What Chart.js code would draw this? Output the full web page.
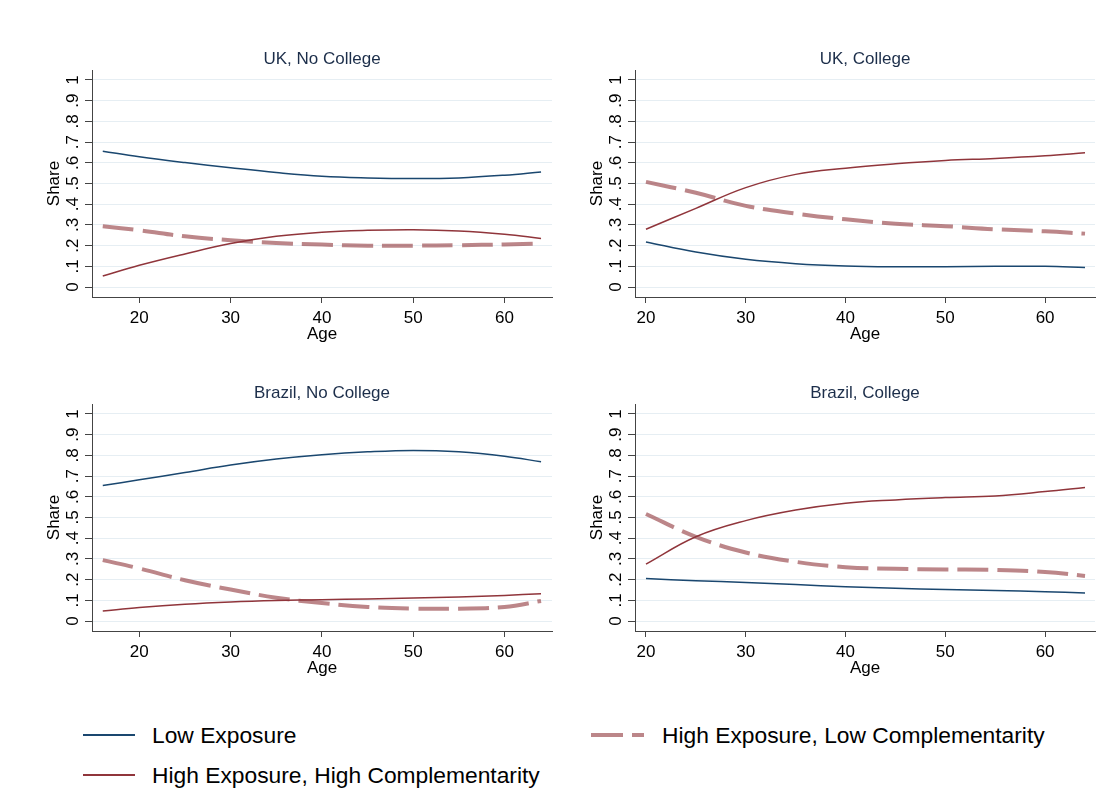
<!DOCTYPE html>
<html>
<head>
<style>
  body { margin: 0; background: #fff; width: 1120px; height: 812px; position: relative; overflow: hidden; }
  .panel { position: absolute; }
  .legend { position: absolute; font-family: 'Liberation Sans', Arial, sans-serif; font-size: 22.8px; color: #000; }
  .key { position: absolute; height: 2px; }
  .lab { position: absolute; white-space: nowrap; line-height: 26px; }
</style>
</head>
<body>

<canvas class="panel" id="c1" width="560" height="330" style="left:30px;top:30px"></canvas>
<canvas class="panel" id="c2" width="560" height="330" style="left:573px;top:30px"></canvas>
<canvas class="panel" id="c3" width="560" height="330" style="left:30px;top:364px"></canvas>
<canvas class="panel" id="c4" width="560" height="330" style="left:573px;top:364px"></canvas>

<div class="legend">
  <div class="key" style="left:83px;top:734px;width:52px;background:#1a476f"></div>
  <div class="lab" style="left:152px;top:722px">Low Exposure</div>
  <div class="key" style="left:83px;top:774px;width:52px;background:#90353b"></div>
  <div class="lab" style="left:152px;top:762px">High Exposure, High Complementarity</div>
  <div class="key" style="left:591px;top:733px;width:32px;height:4px;background:rgba(144,53,59,0.6)"></div>
  <div class="key" style="left:632px;top:733px;width:12px;height:4px;background:rgba(144,53,59,0.6)"></div>
  <div class="lab" style="left:662px;top:722px">High Exposure, Low Complementarity</div>
</div>

<script src="https://cdn.jsdelivr.net/npm/chart.js"></script>
<script>
// ages on the x axis
const agesNoCollege = [16, 20, 25, 30, 35, 40, 45, 50, 55, 60, 64];
const agesCollege = [20, 25, 30, 35, 40, 45, 50, 55, 60, 64];

// UK, No College
const ukNoColLow  = [0.656, 0.629, 0.601, 0.576, 0.553, 0.535, 0.527, 0.524, 0.527, 0.540, 0.556];
const ukNoColHiHi = [0.053, 0.105, 0.160, 0.210, 0.245, 0.265, 0.274, 0.277, 0.271, 0.255, 0.235];
const ukNoColHiLo = [0.294, 0.274, 0.245, 0.226, 0.213, 0.205, 0.200, 0.200, 0.202, 0.206, 0.210];

// UK, College
const ukColLow  = [0.218, 0.169, 0.134, 0.113, 0.102, 0.098, 0.098, 0.100, 0.100, 0.095];
const ukColHiHi = [0.279, 0.380, 0.480, 0.544, 0.574, 0.595, 0.611, 0.621, 0.634, 0.648];
const ukColHiLo = [0.508, 0.455, 0.392, 0.355, 0.327, 0.306, 0.294, 0.279, 0.269, 0.258];

// Brazil, No College
const brNoColLow  = [0.654, 0.682, 0.717, 0.753, 0.782, 0.803, 0.817, 0.824, 0.817, 0.796, 0.769];
const brNoColHiHi = [0.048, 0.065, 0.081, 0.092, 0.099, 0.103, 0.107, 0.111, 0.116, 0.124, 0.132];
const brNoColHiLo = [0.294, 0.254, 0.197, 0.152, 0.113, 0.087, 0.068, 0.060, 0.060, 0.068, 0.097];

// Brazil, College
const brColLow  = [0.205, 0.195, 0.186, 0.176, 0.166, 0.158, 0.152, 0.147, 0.142, 0.136];
const brColHiHi = [0.275, 0.407, 0.485, 0.536, 0.569, 0.585, 0.596, 0.604, 0.625, 0.645];
const brColHiLo = [0.517, 0.407, 0.331, 0.286, 0.260, 0.252, 0.249, 0.247, 0.237, 0.218];

const seriesNames = ['Low Exposure', 'High Exposure, High Complementarity', 'High Exposure, Low Complementarity'];
const yTicks = [0, 0.1, 0.2, 0.3, 0.4, 0.5, 0.6, 0.7, 0.8, 0.9, 1];
const yLabels = ['0', '.1', '.2', '.3', '.4', '.5', '.6', '.7', '.8', '.9', '1'];
const xTicks = [20, 30, 40, 50, 60];

Chart.defaults.font.family = "'Liberation Sans', Arial, sans-serif";
Chart.defaults.color = '#000';

function pts(ages, vals) {
    return ages.map((a, i) => ({ x: a, y: vals[i] }));
}

function makePanel(id, title, ages, low, hiHi, hiLo, xMin, xMax) {
    new Chart(document.getElementById(id), {
        type: 'line',
        data: {
            datasets: [
                { label: seriesNames[0], data: pts(ages, low), borderColor: '#1a476f', borderWidth: 1.5, order: 2 },
                { label: seriesNames[1], data: pts(ages, hiHi), borderColor: '#90353b', borderWidth: 1.5, order: 1 },
                { label: seriesNames[2], data: pts(ages, hiLo), borderColor: 'rgba(144,53,59,0.6)', borderWidth: 4,
                  borderDash: [31, 9], borderCapStyle: 'butt', order: 3 }
            ]
        },
        options: {
            responsive: false,
            animation: false,
            layout: { padding: { left: 14, right: 38, top: 0, bottom: 15.3 } },
            elements: {
                point: { radius: 0 },
                line: { tension: 0.4, fill: false }
            },
            plugins: {
                legend: { display: false },
                tooltip: { enabled: false },
                title: {
                    display: true, text: title, fullSize: false, color: '#1c2e4a',
                    font: { size: 17, weight: 'normal' },
                    padding: { top: 18.8, bottom: 0.8 }
                }
            },
            scales: {
                x: {
                    type: 'linear', min: xMin, max: xMax,
                    afterBuildTicks: s => { s.ticks = xTicks.map(v => ({ value: v })); },
                    afterFit: s => { s.height = 47.7; },
                    grid: { drawOnChartArea: false, tickLength: 6, tickColor: '#444' },
                    border: { color: '#444', width: 1 },
                    ticks: { font: { size: 17 }, padding: 5, maxRotation: 0 },
                    title: { display: true, text: 'Age', font: { size: 17 }, padding: { top: 0, bottom: 0 } }
                },
                y: {
                    type: 'linear', min: -0.048, max: 1.048,
                    afterBuildTicks: s => { s.ticks = yTicks.map(v => ({ value: v })); },
                    afterFit: s => { s.width = 48; },
                    grid: { color: '#e6eef3', tickLength: 7, tickColor: '#444' },
                    border: { color: '#444', width: 1 },
                    ticks: {
                        font: { size: 17 }, padding: 5, minRotation: 90, maxRotation: 90, crossAlign: 'center',
                        callback: (v, i) => yLabels[i]
                    },
                    title: { display: true, text: 'Share', font: { size: 17 }, padding: { top: 0, bottom: 0 } }
                }
            }
        }
    });
}

makePanel('c1', 'UK, No College', agesNoCollege, ukNoColLow, ukNoColHiHi, ukNoColHiLo, 14.82, 65.2);
makePanel('c2', 'UK, College', agesCollege, ukColLow, ukColHiHi, ukColHiLo, 18.9, 65.0);
makePanel('c3', 'Brazil, No College', agesNoCollege, brNoColLow, brNoColHiHi, brNoColHiLo, 14.82, 65.2);
makePanel('c4', 'Brazil, College', agesCollege, brColLow, brColHiHi, brColHiLo, 18.9, 65.0);
</script>

</body>
</html>
